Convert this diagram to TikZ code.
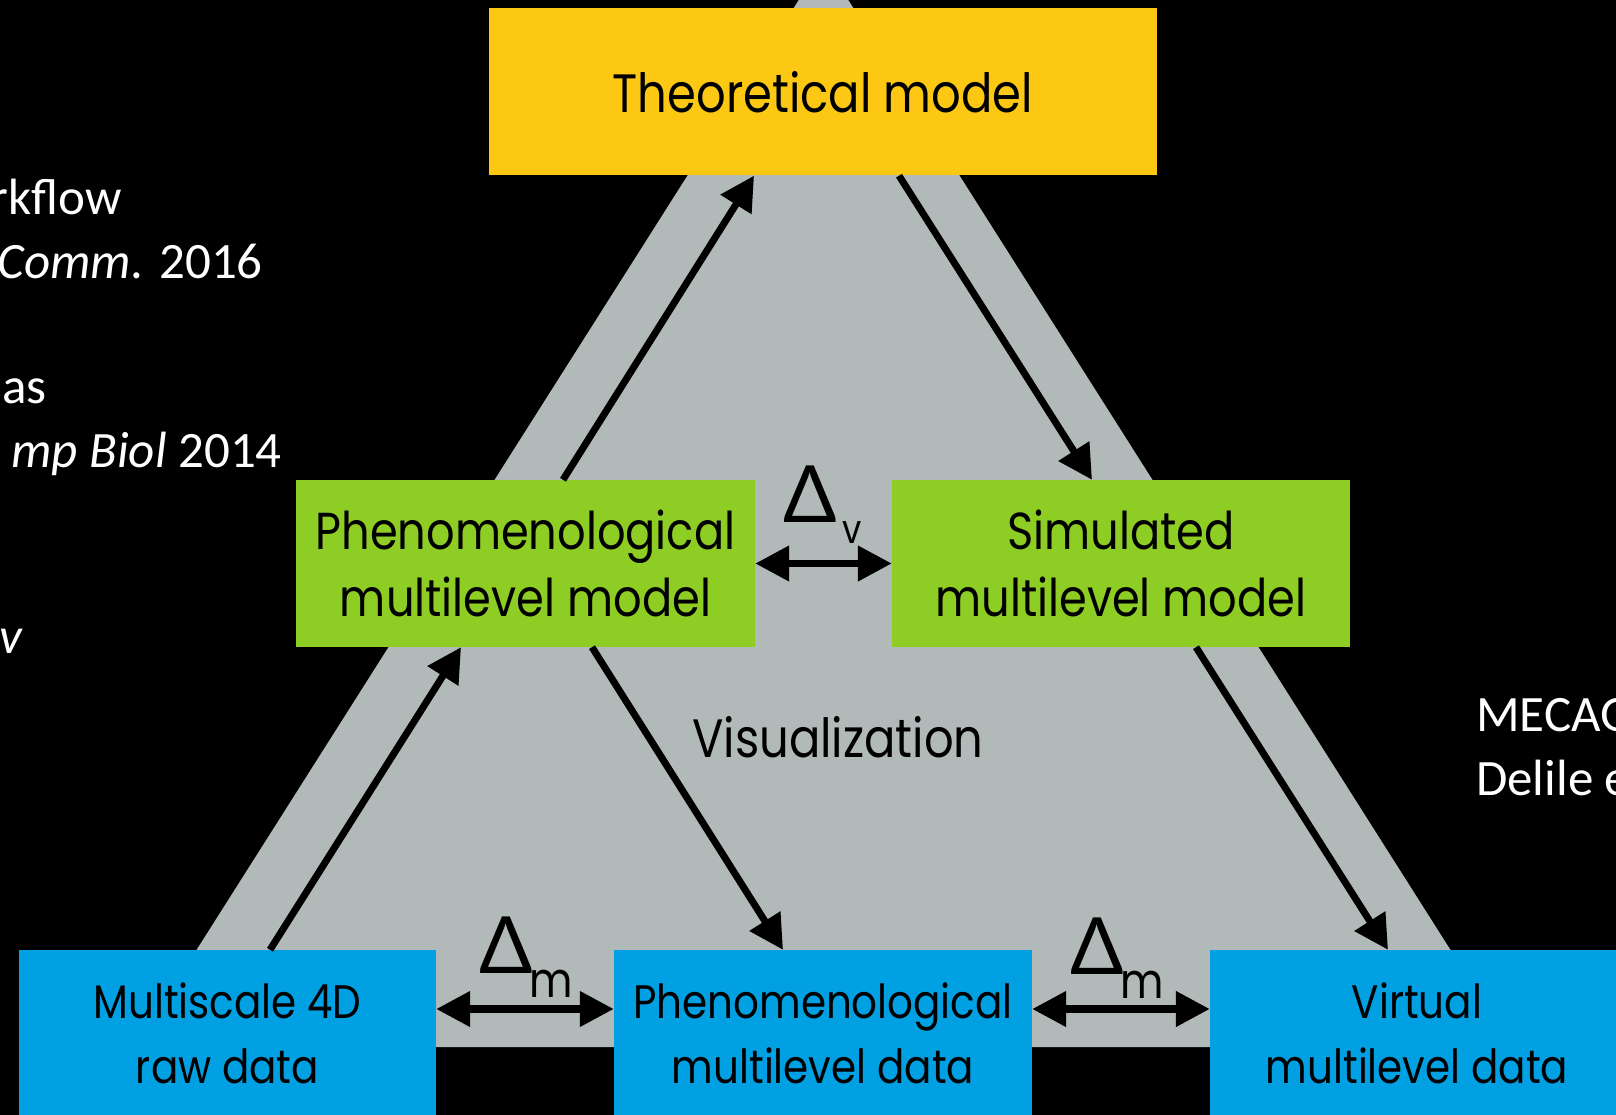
\documentclass[tikz,border=0pt]{standalone}
\usepackage{fontspec}
\setmainfont{Carlito}
\newfontfamily\boxfont[FakeStretch=0.86]{Poppins}
\newfontfamily\greekfont{Lato}
\usetikzlibrary{arrows.meta}
\definecolor{theoyellow}{HTML}{FCC814}
\definecolor{modelgreen}{HTML}{8ECE24}
\definecolor{datablue}{HTML}{00A0E2}
\definecolor{trigray}{HTML}{B1BAB8}
\tikzset{
  stage/.style={inner sep=0pt, minimum height=167pt, align=center, text=black,
    font=\boxfont\fontsize{52}{67}\selectfont},
  bigstage/.style={stage, font=\boxfont\fontsize{54}{67}\selectfont},
  datastage/.style={stage, fill=datablue, font=\boxfont\fontsize{47}{65}\selectfont},
  flow/.style={line width=7pt, -{Triangle[length=34pt,width=35pt]}},
  link/.style={line width=7.5pt, {Triangle[length=34pt,width=34pt]}-{Triangle[length=34pt,width=34pt]}},
  delta/.style={inner sep=0pt, text=black, font=\greekfont\fontsize{79}{79}\selectfont},
  note/.style={inner sep=0pt, text=white, font=\fontsize{51}{60}\selectfont}
}
\begin{document}
\begin{tikzpicture}[x=1pt, y=-1pt]
  \useasboundingbox (0,0) rectangle (1616,1115);
  \clip (0,0) rectangle (1616,1115);
  \fill[black] (0,0) rectangle (1616,1115);
  % triangle behind the boxes
  \fill[trigray] (823.5,-39) -- (1512,1047) -- (135,1047) -- cycle;

  \node[bigstage, fill=theoyellow, minimum width=668pt] (theo) at (823,92) {Theoretical model};
  \node[stage, fill=modelgreen, minimum width=459pt] (pmodel) at (525.5,563.5) {Phenomenological\\multilevel model};
  \node[stage, fill=modelgreen, minimum width=458pt] (smodel) at (1121,563.5) {Simulated\\multilevel model};
  \node[datastage, minimum width=417pt] (raw) at (227.5,1033.5) {Multiscale 4D\\raw data};
  \node[datastage, minimum width=418pt] (pdata) at (823,1033.5) {Phenomenological\\multilevel data};
  \node[datastage, minimum width=414pt] (vdata) at (1417,1033.5) {Virtual\\multilevel data};

  \node[bigstage, minimum height=0pt, anchor=base] (vis) at (838,757) {Visualization};

  \draw[flow] ([xshift=42.5pt]raw.north) -- ([xshift=-64.5pt]pmodel.south);
  \draw[flow] ([xshift=37.5pt]pmodel.north) -- ([xshift=-69pt]theo.south);
  \draw[flow] ([xshift=76pt]theo.south) -- ([xshift=-29pt]smodel.north);
  \draw[flow] ([xshift=66.5pt]pmodel.south) -- ([xshift=-40pt]pdata.north);
  \draw[flow] ([xshift=75pt]smodel.south) -- ([xshift=-29pt]vdata.north);

  \draw[link] (pmodel.east) -- (smodel.west);
  \draw[link] ([yshift=24.5pt]raw.east) -- ([yshift=24.5pt]pdata.west);
  \draw[link] ([yshift=24.5pt]pdata.east) -- ([yshift=24.5pt]vdata.west);

  \node[delta, anchor=base west] (dv) at (783,522) {Δ\kern6pt\raisebox{-21pt}{\boxfont\fontsize{40}{40}\selectfont v}};
  \node[delta, anchor=base west] (dmleft) at (479,973) {Δ\kern-3pt\raisebox{-24pt}{\boxfont\fontsize{49}{49}\selectfont m}};
  \node[delta, anchor=base west] (dmright) at (1070,974) {Δ\kern-3pt\raisebox{-24pt}{\boxfont\fontsize{49}{49}\selectfont m}};

  % side notes, cut off by the frame
  \node[note, anchor=base east] (note1) at (122,215) {rkflow};
  \node[note, anchor=base east] (note2) at (263,278) {\textit{Comm.} 2016};
  \node[note, anchor=base east] (note3) at (47,403) {as};
  \node[note, anchor=base east] (note4) at (282,467) {\textit{mp Biol} 2014};
  \node[note, anchor=base east] (note5) at (23,653) {\textit{v}};
  \node[note, anchor=base west] (note6) at (1476,731) {MECAG};
  \node[note, anchor=base west] (note7) at (1476,795) {Delile e};
\end{tikzpicture}
\end{document}
